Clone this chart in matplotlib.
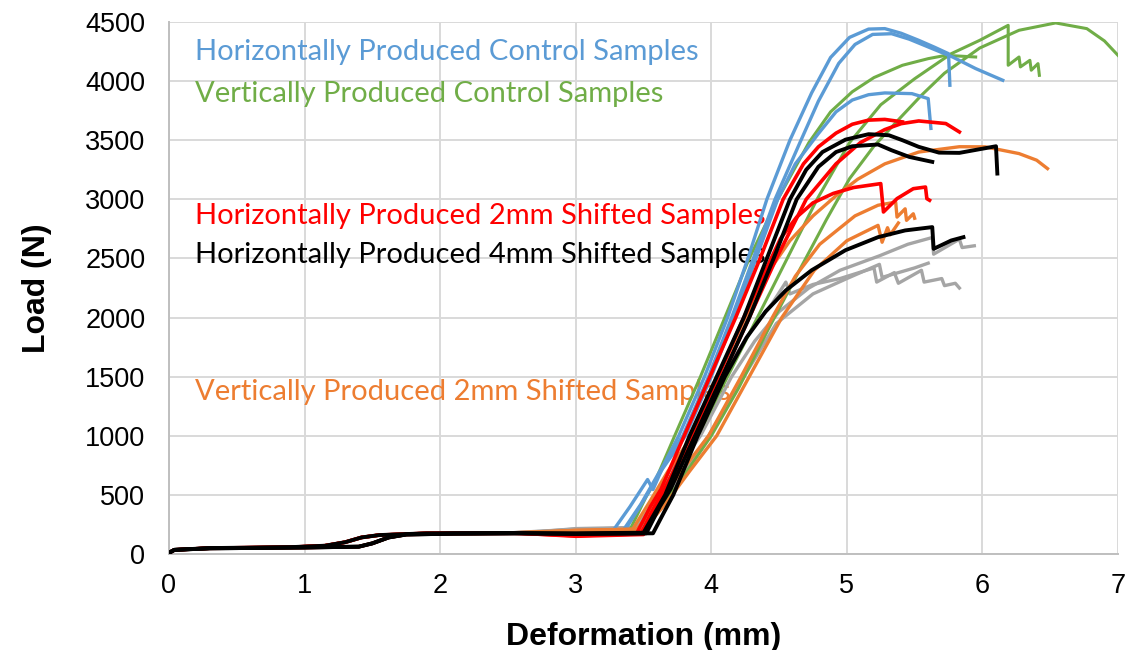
import matplotlib
matplotlib.use("Agg")
import matplotlib.pyplot as plt

# load-deformation curves, points (x in mm, y in N)
toe_a = [(0.00, 10), (0.04, 35), (0.30, 50), (0.90, 58), (1.15, 70), (1.30, 100),
         (1.42, 140), (1.55, 160), (1.90, 175), (2.50, 178)]
toe_b = [(0.00, 10), (0.04, 35), (0.30, 48), (1.00, 55), (1.40, 62), (1.50, 90),
         (1.62, 140), (1.75, 165), (2.10, 172), (2.60, 175)]

# horizontally produced control samples (blue)
hc_1 = toe_a + [(3.00, 185), (3.28, 205), (3.40, 400), (3.53, 630), (3.57, 545), (3.66, 780),
                (3.76, 1000), (3.95, 1500), (4.12, 2000), (4.27, 2500), (4.41, 3000), (4.58, 3500),
                (4.74, 3900), (4.88, 4200), (5.02, 4370), (5.16, 4440), (5.28, 4444), (5.40, 4405),
                (5.53, 4345), (5.65, 4285), (5.75, 4232), (5.76, 3965)]
hc_2 = toe_b + [(3.00, 185), (3.35, 200), (3.48, 420), (3.62, 700), (3.79, 1000), (3.98, 1500),
                (4.15, 2000), (4.31, 2500), (4.47, 3000), (4.65, 3470), (4.79, 3830), (4.94, 4150),
                (5.06, 4310), (5.19, 4395), (5.33, 4401), (5.46, 4355), (5.60, 4289), (5.78, 4204),
                (5.95, 4106), (6.15, 4007)]
hc_3 = toe_a + [(3.00, 180), (3.36, 195), (3.50, 450), (3.64, 720), (3.81, 1000), (4.00, 1500),
                (4.17, 2000), (4.33, 2500), (4.49, 3000), (4.62, 3300), (4.79, 3556), (4.92, 3740),
                (5.04, 3840), (5.16, 3885), (5.28, 3900), (5.48, 3894), (5.60, 3852), (5.62, 3600)]

# vertically produced control samples (green)
vc_1 = toe_a + [(3.00, 190), (3.40, 205), (3.52, 486), (3.58, 600), (3.73, 1000), (3.92, 1500),
                (4.10, 2000), (4.28, 2500), (4.49, 3000), (4.72, 3480), (4.88, 3740), (5.04, 3910),
                (5.20, 4030), (5.41, 4134), (5.60, 4190), (5.73, 4218), (5.95, 4204)]
vc_2 = toe_b + [(3.00, 185), (3.45, 200), (3.58, 400), (3.72, 700), (3.90, 1000), (4.12, 1500),
                (4.34, 2000), (4.56, 2500), (4.78, 3000), (5.02, 3480), (5.25, 3800), (5.50, 4020),
                (5.77, 4232), (5.98, 4345), (6.19, 4472), (6.19, 4134), (6.27, 4204), (6.28, 4120),
                (6.35, 4176), (6.36, 4092), (6.41, 4148), (6.42, 4049)]
vc_3 = toe_b + [(3.00, 185), (3.50, 200), (3.65, 420), (3.82, 700), (4.00, 1000), (4.20, 1400),
                (4.42, 1900), (4.65, 2400), (4.85, 2830), (5.02, 3175), (5.20, 3450), (5.39, 3685),
                (5.55, 3880), (5.72, 4067), (5.98, 4280), (6.27, 4430), (6.54, 4492), (6.77, 4444),
                (6.90, 4340), (7.00, 4218)]

# horizontally produced 2mm shifted samples (red)
h2_1 = toe_a + [(3.00, 160), (3.45, 175), (3.55, 400), (3.63, 550), (3.80, 1000), (3.99, 1500),
                (4.18, 2000), (4.36, 2500), (4.53, 3000), (4.68, 3300), (4.79, 3444), (4.92, 3560),
                (5.04, 3635), (5.16, 3670), (5.28, 3676), (5.41, 3655)]
h2_2 = toe_b + [(3.00, 150), (3.50, 165), (3.60, 400), (3.70, 600), (3.88, 1000), (4.08, 1500),
                (4.28, 2000), (4.48, 2500), (4.70, 3000), (4.92, 3300), (5.10, 3480), (5.28, 3590),
                (5.40, 3640), (5.53, 3663), (5.73, 3641), (5.83, 3570)]
h2_3 = toe_a + [(3.00, 155), (3.48, 170), (3.58, 400), (3.66, 560), (3.85, 1000), (4.05, 1500),
                (4.22, 1950), (4.38, 2350), (4.51, 2667), (4.63, 2850), (4.75, 2970), (4.90, 3050),
                (5.05, 3100), (5.25, 3133), (5.27, 2893), (5.37, 3006), (5.49, 3090), (5.58, 3104),
                (5.59, 3006), (5.61, 2992)]

# horizontally produced 4mm shifted samples (black)
h4_1 = toe_b + [(3.00, 175), (3.50, 180), (3.60, 380), (3.66, 500), (3.84, 1000), (4.04, 1500),
                (4.24, 2000), (4.41, 2500), (4.58, 3000), (4.70, 3250), (4.82, 3400), (4.99, 3505),
                (5.16, 3551), (5.31, 3542), (5.41, 3500), (5.53, 3444), (5.68, 3395), (5.83, 3393),
                (6.10, 3449), (6.11, 3218)]
h4_2 = toe_a + [(3.00, 170), (3.52, 175), (3.62, 400), (3.70, 550), (3.88, 1000), (4.08, 1500),
                (4.28, 2000), (4.46, 2500), (4.63, 3000), (4.79, 3275), (4.92, 3400), (5.04, 3449),
                (5.23, 3464), (5.33, 3415), (5.46, 3359), (5.63, 3317)]
h4_3 = toe_b + [(3.00, 170), (3.57, 175), (3.65, 350), (3.72, 500), (3.90, 1000), (4.10, 1500),
                (4.26, 1830), (4.40, 2050), (4.55, 2230), (4.74, 2400), (4.99, 2570), (5.23, 2680),
                (5.43, 2737), (5.63, 2765), (5.64, 2581), (5.77, 2652), (5.86, 2680)]

# vertically produced 2mm shifted samples (orange)
v2_1 = toe_a + [(3.00, 200), (3.42, 210), (3.55, 450), (3.68, 700), (3.86, 1000), (4.05, 1500),
                (4.25, 2000), (4.40, 2350), (4.58, 2650), (4.75, 2860), (4.92, 3030), (5.08, 3170),
                (5.28, 3300), (5.53, 3400), (5.83, 3445), (6.02, 3444), (6.27, 3387), (6.40, 3331),
                (6.48, 3260)]
v2_2 = toe_b + [(3.00, 200), (3.45, 210), (3.60, 420), (3.78, 700), (3.98, 1000), (4.22, 1500),
                (4.45, 2000), (4.62, 2350), (4.80, 2620), (5.06, 2860), (5.23, 2950), (5.36, 2977),
                (5.37, 2850), (5.43, 2920), (5.44, 2822), (5.49, 2878), (5.50, 2840)]
v2_3 = toe_a + [(3.00, 195), (3.50, 205), (3.66, 420), (3.84, 700), (4.04, 1000), (4.28, 1500),
                (4.52, 2000), (4.76, 2400), (5.00, 2650), (5.23, 2780), (5.26, 2637), (5.30, 2760),
                (5.32, 2700), (5.38, 2800)]

# unlabelled series (grey)
gr_1 = toe_a + [(3.00, 210), (3.48, 220), (3.62, 450), (3.74, 700), (3.92, 1000), (4.15, 1500),
                (4.32, 1800), (4.50, 2050), (4.72, 2250), (4.95, 2400), (5.24, 2522), (5.45, 2620),
                (5.63, 2677), (5.64, 2536), (5.83, 2663), (5.85, 2592), (5.94, 2607)]
gr_2 = toe_b + [(3.00, 215), (3.45, 225), (3.58, 450), (3.68, 680), (3.86, 1000), (4.08, 1500),
                (4.30, 1900), (4.45, 2120), (4.55, 2300), (4.58, 2200), (4.75, 2280), (4.95, 2330),
                (5.20, 2420), (5.22, 2300), (5.35, 2380), (5.38, 2290), (5.55, 2400), (5.57, 2300),
                (5.70, 2330), (5.72, 2270), (5.80, 2290), (5.83, 2250)]
gr_3 = toe_a + [(3.00, 205), (3.52, 215), (3.66, 450), (3.80, 700), (3.98, 1000), (4.24, 1500),
                (4.48, 1950), (4.75, 2200), (5.00, 2330), (5.24, 2450), (5.26, 2340), (5.50, 2420),
                (5.60, 2460)]

labels = ["Horizontally Produced Control Samples",
          "Vertically Produced Control Samples",
          "Horizontally Produced 2mm Shifted Samples",
          "Horizontally Produced 4mm Shifted Samples",
          "Vertically Produced 2mm Shifted Samples"]
label_pos = [(0.19, 4250), (0.19, 3890), (0.19, 2860), (0.19, 2530), (0.19, 1370)]

x_ticks = [0, 1, 2, 3, 4, 5, 6, 7]
y_ticks = [0, 500, 1000, 1500, 2000, 2500, 3000, 3500, 4000, 4500]

BLUE = "#5B9BD5"
GREEN = "#70AD47"
RED = "#FF0000"
BLACK = "#000000"
ORANGE = "#ED7D31"
GREY = "#A5A5A5"

groups = [
    ([gr_1, gr_2, gr_3], GREY, 2.4),
    ([vc_1, vc_2, vc_3], GREEN, 2.2),
    ([hc_1, hc_2, hc_3], BLUE, 2.4),
    ([v2_1, v2_2, v2_3], ORANGE, 2.4),
    ([h2_1, h2_2, h2_3], RED, 2.6),
    ([h4_1, h4_2, h4_3], BLACK, 2.8),
]
label_colors = [BLUE, GREEN, RED, BLACK, ORANGE]

fig = plt.figure(figsize=(11.29, 6.5), dpi=100)
ax = fig.add_axes([169 / 1129, 96 / 650, 949 / 1129, 532 / 650])

for curves, col, lw in groups:
    for c in curves:
        xs = [p[0] for p in c]
        ys = [p[1] for p in c]
        ax.plot(xs, ys, color=col, lw=lw, zorder=3, solid_joinstyle="round")

for txt, (tx, ty), col in zip(labels, label_pos, label_colors):
    ax.text(tx, ty, txt, color=col, fontsize=21, family=["Lato", "DejaVu Sans"],
            va="center", ha="left", zorder=2)

ax.set_xlim(0, 7)
ax.set_ylim(0, 4500)
ax.set_xticks(x_ticks)
ax.set_yticks(y_ticks)
ax.grid(True, color="#D9D9D9", lw=1.4, zorder=0)
ax.set_axisbelow(True)
for s in ["top", "right"]:
    ax.spines[s].set_visible(False)
for s in ["left", "bottom"]:
    ax.spines[s].set_color("#BFBFBF")
    ax.spines[s].set_linewidth(1.4)
ax.tick_params(length=0, labelsize=19.5)
ax.tick_params(axis="y", pad=17)
ax.tick_params(axis="x", pad=14)
for lab in ax.get_xticklabels() + ax.get_yticklabels():
    lab.set_family("Liberation Sans")

ax.set_xlabel("Deformation (mm)", fontsize=23, fontweight="bold", family="Liberation Sans", labelpad=16)
ax.set_ylabel("Load (N)", fontsize=23, fontweight="bold", family="Liberation Sans", labelpad=24)

fig.savefig("out.png", dpi=100)
